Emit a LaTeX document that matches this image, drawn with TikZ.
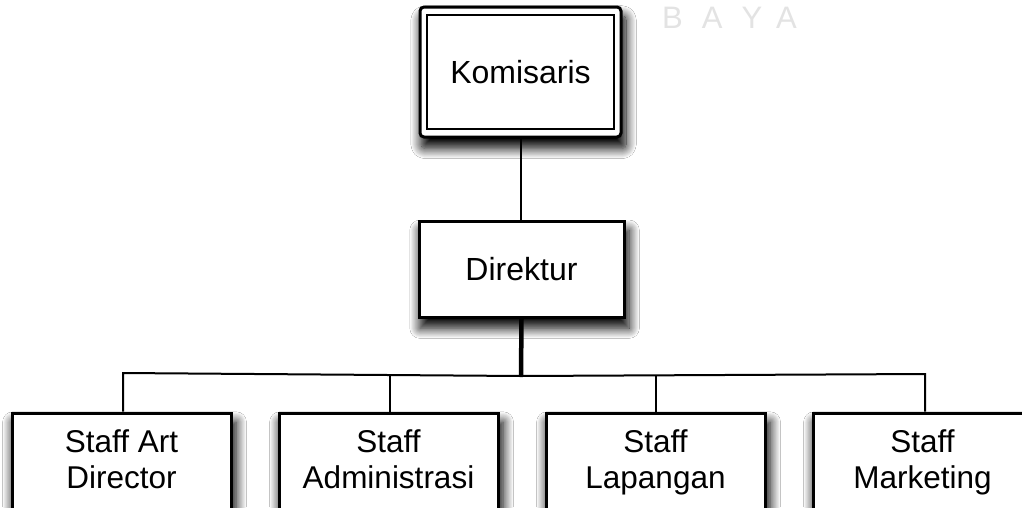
\documentclass[tikz,border=0pt]{standalone}
\usepackage{fontspec}
\setmainfont{Liberation Sans}
\usetikzlibrary{shadows.blur}
\begin{document}
\begin{tikzpicture}[x=1pt,y=-1pt,
  shad/.style={blur shadow={shadow xshift=3pt, shadow yshift=-10pt, shadow blur steps=14, shadow opacity=100, shadow blur radius=10pt, shadow scale=1.02}},
  box/.style={draw, line width=3pt, fill=white, inner sep=0pt, shad},
  staffbox/.style={box, minimum width=219pt, minimum height=120pt},
  txt/.style={font=\fontsize{32}{38}\selectfont, align=center, inner sep=0pt},
  stxt/.style={font=\fontsize{31.5}{36}\selectfont, align=center, inner sep=0pt, anchor=base},
  conn/.style={line width=2pt},
  wm/.style={text=black!11, font=\fontsize{31}{34}\selectfont, inner sep=0pt, anchor=base west}]
\useasboundingbox (0,0) rectangle (1022,507);
\clip (0,0) rectangle (1022,507);
\fill[white] (0,0) rectangle (1022,507);
% watermark
\node[wm] (wmark) at (662,28) {B\hspace{19pt}A\hspace{19pt}Y\hspace{14pt}A};
% Komisaris
\node[box, rounded corners=4pt, minimum width=201pt, minimum height=130pt] (kom) at (520.5,72) {};
\node[draw, line width=2.6pt, minimum width=187pt, minimum height=114pt, inner sep=0pt, txt] (komin) at (520.5,72) {Komisaris};
% Direktur
\node[box, minimum width=205pt, minimum height=96pt, txt] (dir) at (521.5,269) {Direktur};
% staff boxes
\node[staffbox] (s1) at (121.5,473) {};
\node[staffbox] (s2) at (388.5,473) {};
\node[staffbox] (s3) at (655.5,473) {};
\node[staffbox] (s4) at (922.5,473) {};
\node[stxt] (t1) at (121.5,488) {Staff Art\\Director};
\node[stxt] (t2) at (388.5,488) {Staff\\Administrasi};
\node[stxt] (t3) at (655.5,488) {Staff\\Lapangan};
\node[stxt] (t4) at (922.5,488) {Staff\\Marketing};
% connectors
\coordinate (bus) at (521,376);
\coordinate (bl) at (123,373);
\coordinate (br) at (925,374);
\draw[conn] (kom.south) -- (kom.south |- dir.north);
\draw[line width=4.5pt] (dir.south) -- (bus);
\draw[conn] (s1.north -| bl) -- (bl) -- (bus) -- (br) -- (s4.north -| br);
\draw[conn] (s2.north -| 390,0) -- (390,374.5);
\draw[conn] (s3.north -| 656,0) -- (656,375.5);
\end{tikzpicture}
\end{document}
